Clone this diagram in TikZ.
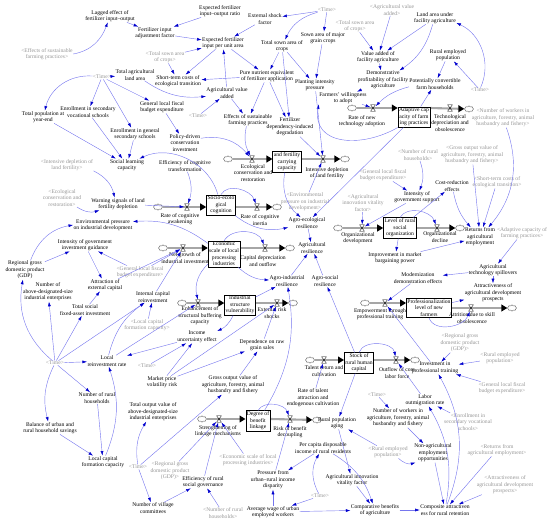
\documentclass[tikz,border=0pt]{standalone}
\usepackage{fontspec}
\setmainfont{Liberation Serif}
\usetikzlibrary{arrows.meta}
\usetikzlibrary{shapes.symbols}
\pgfdeclarelayer{back}
\pgfsetlayers{back,main}
\definecolor{linkblue}{RGB}{118,118,238}
\definecolor{tipblue}{RGB}{0,0,205}
\definecolor{shadowgray}{RGB}{150,150,150}

\tikzset{
  var/.style={align=center, inner sep=0.5pt, font=\fontsize{8}{9.4}\selectfont},
  ghost/.style={var, text=shadowgray},
  stock/.style={var, draw=black, line width=0.8pt, fill=white, inner sep=1.5pt},
  link/.style={draw=linkblue, line width=0.6pt, -{Latex[length=2.3mm,width=1.5mm,color=tipblue]}},
  pipe/.style={draw=black!35, line width=3pt, -{Triangle[length=3mm,width=3.4mm,black]}},
  source/.style={cloud, cloud puffs=8, cloud ignores aspect, draw=black!70, fill=white, line width=0.5pt, minimum width=0.45cm, minimum height=0.32cm, inner sep=0pt},
  valve/.style={minimum width=0.26cm, minimum height=0.34cm, inner sep=0pt,
    path picture={\draw[black, line width=0.5pt]
      ([shift={(0.3pt,-0.3pt)}]path picture bounding box.north west) --
      ([shift={(-0.3pt,-0.3pt)}]path picture bounding box.north east) --
      ([shift={(0.3pt,0.3pt)}]path picture bounding box.south west) --
      ([shift={(-0.3pt,0.3pt)}]path picture bounding box.south east) -- cycle;}}
}

\begin{document}
\begin{tikzpicture}[x=0.05cm,y=-0.05cm]
\useasboundingbox (0,0) rectangle (550,524);
%Fertilizer and land
\node[var] (lag) at (110,16) {Lagged effect of\\fertilizer input–output};
\node[var] (fiaf) at (155,33) {Fertilizer input\\adjustment factor};
\node[var] (efior) at (220,11) {Expected fertilizer\\input–output ratio};
\node[var] (esf) at (265,19) {External shock\\factor};
\node[ghost] (time1) at (327,10) {<Time>};
\node[var] (sams) at (323,38) {Sown area of major\\grain crops};
\node[var] (tsac) at (282,46) {Total sown area of\\crops};
\node[ghost] (tsacg1) at (355,26) {<Total sown area\\of crops>};
\node[ghost] (avag) at (392,10) {<Agricultural value\\added>};
\node[var] (lafa) at (435,18) {Land area under\\facility agriculture};
\node[var] (vafa) at (378,57) {Value added of\\facility agriculture};
\node[var] (rep) at (448,55) {Rural employed\\population};
\node[var] (dpfa) at (383,80) {Demonstrative\\profitability of facility\\agriculture};
\node[var] (pcfh) at (435,84) {Potentially convertible\\farm households};
\node[ghost] (time2) at (480,90) {<Time>};
\node[var] (efiu) at (223,43) {Expected fertilizer\\input per unit area};
\node[ghost] (esfpg) at (47,54) {<Effects of sustainable\\farming practices>};
\node[ghost] (tsacg2) at (165,57) {<Total sown area\\of crops>};
\node[ghost] (time3) at (102,77) {<Time>};
\node[var] (tal) at (135,75) {Total agricultural\\land area};
\node[var] (stc) at (178,81) {Short-term costs of\\ecological transition};
\node[var] (pne) at (267,76) {Pure nutrient equivalent\\of fertilizer application};
\node[var] (ava) at (227,93) {Agricultural value\\added};
\node[var] (pip) at (315,85) {Planting intensity\\pressure};
\node[var] (fwa) at (343,98) {Farmers' willingness\\to adopt};
\node[ghost] (time4) at (198,116) {<Time>};
\node[var] (esfp) at (248,120) {Effects of sustainable\\farming practices};
\node[var] (fdd) at (290,127) {Fertilizer\\dependency-induced\\degradation};
\node[var] (esvs) at (88,112) {Enrollment in secondary\\vocational schools};
\node[var] (tpy) at (43,117) {Total population at\\year-end};
\node[var] (glfb) at (162,107) {General local fiscal\\budget expenditure};
\node[var] (egss) at (135,134) {Enrollment in general\\secondary schools};
\node[var] (pdci) at (185,143) {Policy-driven\\conservation\\investment};
%Adaptive capacity
\node[stock] (acfp) at (414,117) {Adaptive cap\\acity of farm\\ing practices};
\node[source] (c1) at (352,108) {};
\node[valve] (rnta) at (373,108) {};
\node[var] (lrnta) at (362,121) {Rate of new\\technology adoption};
\node[valve] (tdo) at (450,108) {};
\node[source] (c2) at (469,109) {};
\node[var] (ltdo) at (450,123) {Technological\\depreciation and\\obsolescence};
\node[ghost] (nwg) at (503,118) {<Number of workers in\\agriculture, forestry, animal\\husbandry and fishery>};
%Carrying capacity and cognition
\node[stock] (sfcc) at (287,162) {and fertility\\carrying\\capacity};
\node[source] (c3) at (228,159) {};
\node[valve] (ecr) at (252,159) {};
\node[var] (lecr) at (253,173) {Ecological\\conservation and\\restoration};
\node[valve] (idlf) at (323,159) {};
\node[source] (c4) at (345,159) {};
\node[var] (lidlf) at (327,173) {Intensive depletion\\of land fertility};
\node[var] (slc) at (127,165) {Social learning\\capacity};
\node[ghost] (idlfg) at (67,165) {<Intensive depletion of\\land fertility>};
\node[var] (ect) at (185,166) {Efficiency of cognitive\\transformation};
\node[ghost] (ecrg) at (62,198) {<Ecological\\conservation and\\restoration>};
\node[var] (wsfd) at (118,204) {Warning signals of land\\fertility depletion};
\node[stock] (sec) at (221,205) {Socio-ecolo\\gical\\cognition};
\node[source] (c5) at (158,207) {};
\node[valve] (rca) at (187,207) {};
\node[var] (lrca) at (180,219) {Rate of cognitive\\awakening};
\node[valve] (rci) at (257,207) {};
\node[source] (c6) at (277,207) {};
\node[var] (lrci) at (260,220) {Rate of cognitive\\inertia};
\node[ghost] (epidg) at (305,202) {<Environmental\\pressure on industrial\\development>};
\node[var] (aer) at (307,223) {Agro-ecological\\resilience};
%Rural organization
\node[ghost] (aivfg) at (363,203) {<Agricultural\\innovation vitality\\factor>};
\node[ghost] (nrhg) at (418,155) {<Number of rural\\households>};
\node[ghost] (glfbg1) at (383,175) {<General local fiscal\\budget expenditure>};
\node[ghost] (gtog) at (472,155) {<Gross output value of\\agriculture, forestry, animal\\husbandry and fishery>};
\node[var] (cre) at (452,186) {Cost-reduction\\effects};
\node[ghost] (stcg) at (497,182) {<Short-term costs of\\ecological transition>};
\node[var] (igs) at (417,197) {Intensity of\\government support};
\node[stock] (lrso) at (400,228) {Level of rural\\social\\organization};
\node[source] (c7) at (338,228) {};
\node[valve] (od) at (362,228) {};
\node[var] (lod) at (358,238) {Organizational\\development};
\node[valve] (odec) at (437,228) {};
\node[source] (c8) at (460,228) {};
\node[var] (lodec) at (440,237) {Organizational\\decline};
\node[var] (rae) at (480,237) {Returns from\\agricultural\\employment};
\node[ghost] (acfpg) at (522,233) {<Adaptive capacity of\\farming practices>};
%Industry
\node[var] (epid) at (103,225) {Environmental pressure\\on industrial development};
\node[var] (igig) at (85,245) {Intensity of government\\investment guidance};
\node[stock] (eslp) at (224,254) {Economic\\scale of local\\processing\\industries};
\node[source] (c9) at (163,248) {};
\node[valve] (ngii) at (183,248) {};
\node[var] (lngii) at (185,258) {Net growth of\\industrial investment};
\node[valve] (cdo) at (265,248) {};
\node[source] (c10) at (290,248) {};
\node[var] (lcdo) at (263,261) {Capital depreciation\\and outflow};
\node[var] (ar) at (312,248) {Agricultural\\resilience};
\node[var] (imbp) at (395,258) {Improvement in market\\bargaining power};
\node[var] (gdp) at (25,270) {Regional gross\\domestic product\\(GDP)};
\node[ghost] (glfbg2) at (140,272) {<General local fiscal\\budget expenditure>};
\node[var] (ats) at (493,270) {Agricultural\\technology spillovers};
\node[var] (mde) at (418,278) {Modernization\\demonstration effects};
\node[var] (air) at (287,281) {Agro-industrial\\resilience};
\node[var] (asr) at (325,281) {Agro-social\\resilience};
\node[var] (ec) at (105,285) {Attraction of\\external capital};
\node[var] (nadie) at (48,292) {Number of\\above-designated-size\\industrial enterprises};
\node[var] (adp) at (493,293) {Attractiveness of\\agricultural development\\prospects};
\node[var] (icr) at (153,297) {Internal capital\\reinvestment};
\node[stock] (isv) at (240,305) {Industrial\\structure\\vulnerability};
\node[source] (c11) at (182,303) {};
\node[valve] (esbc) at (198,303) {};
\node[var] (lesbc) at (200,316) {Enhancement of\\structural buffering\\capacity};
\node[valve] (ers) at (277,303) {};
\node[source] (c12) at (293,303) {};
\node[var] (lers) at (272,313) {External risk\\shocks};
%Professional farmers
\node[stock] (plnf) at (429,308) {Professionalization\\level of new\\farmers};
\node[source] (c13) at (365,303) {};
\node[valve] (eptt) at (385,303) {};
\node[var] (leptt) at (380,314) {Empowerment through\\professional training};
\node[valve] (asko) at (471,308) {};
\node[source] (c14) at (512,308) {};
\node[var] (lasko) at (472,318) {Attrition due to skill\\obsolescence};
\node[var] (tsfi) at (85,310) {Total social\\fixed-asset investment};
\node[ghost] (lcfcg) at (147,325) {<Local capital\\formation capacity>};
\node[var] (iue) at (197,337) {Income\\uncertainty effect};
\node[var] (drgs) at (262,345) {Dependence on raw\\grain sales};
\node[ghost] (gdpg1) at (460,343) {<Regional gross\\domestic product\\(GDP)>};
\node[ghost] (repg1) at (500,358) {<Rural employed\\population>};
%Human capital
\node[stock] (srhc) at (359,363) {Stock of\\rural human\\capital};
\node[source] (c15) at (310,360) {};
\node[valve] (trc) at (324,360) {};
\node[var] (ltrc) at (324,371) {Talent return and\\cultivation};
\node[valve] (oclf) at (396,360) {};
\node[source] (c16) at (415,360) {};
\node[var] (loclf) at (397,373) {Outflow of core\\labor force};
\node[ghost] (time5) at (55,363) {<Time>};
\node[var] (lrr) at (107,361) {Local\\reinvestment rate};
\node[ghost] (time6) at (147,366) {<Time>};
\node[var] (ipt) at (435,368) {Investment in\\professional training};
\node[var] (mpvr) at (162,382) {Market price\\volatility risk};
\node[var] (gtov) at (233,385) {Gross output value of\\agriculture, forestry, animal\\husbandry and fishery};
\node[ghost] (glfbg3) at (502,388) {<General local fiscal\\budget expenditure>};
\node[var] (nrh) at (97,398) {Number of rural\\households};
\node[var] (rta) at (313,398) {Rate of talent\\attraction and\\endogenous cultivation};
\node[ghost] (time7) at (377,395) {<Time>};
\node[var] (lor) at (425,400) {Labor\\outmigration rate};
\node[var] (tov) at (153,412) {Total output value of\\above-designated-size\\industrial enterprises};
\node[var] (nwafa) at (398,418) {Number of workers in\\agriculture, forestry, animal\\husbandry and fishery};
\node[ghost] (esvsg) at (468,422) {<Enrollment in\\secondary vocational\\schools>};
%Benefit linkage
\node[stock] (dbl) at (258,421) {Degree of\\benefit\\linkage};
\node[source] (c17) at (202,419) {};
\node[valve] (slm) at (219,419) {};
\node[var] (lslm) at (218,431) {Strengthening of\\linkage mechanisms};
\node[valve] (rbd) at (290,419) {};
\node[source] (c18) at (317,420) {};
\node[var] (lrbd) at (290,432) {Risk of benefit\\decoupling};
\node[var] (rpa) at (337,423) {Rural population\\aging};
\node[var] (bs) at (50,428) {Balance of urban and\\rural household savings};
\node[var] (pcdi) at (323,448) {Per capita disposable\\income of rural residents};
\node[ghost] (repg2) at (388,452) {<Rural employed\\population>};
\node[var] (naeo) at (433,453) {Non-agricultural\\employment\\opportunities};
\node[ghost] (raeg) at (497,450) {<Returns from\\agricultural employment>};
\node[ghost] (eslpg) at (248,460) {<Economic scale of local\\processing industries>};
\node[var] (lcfc) at (103,462) {Local capital\\formation capacity};
\node[ghost] (time8) at (138,467) {<Time>};
\node[ghost] (gdpg2) at (170,471) {<Regional gross\\domestic product\\(GDP)>};
\node[var] (ersg) at (203,482) {Efficiency of rural\\social governance};
\node[var] (puri) at (273,480) {Pressure from\\urban–rural income\\disparity};
\node[var] (aivf) at (352,480) {Agricultural innovation\\vitality factor};
\node[ghost] (adpg) at (505,485) {<Attractiveness of\\agricultural development\\prospects>};
\node[ghost] (time9) at (320,496) {<Time>};
\node[var] (nvc) at (153,508) {Number of village\\committees};
\node[var] (awu) at (273,512) {Average wage of urban\\employed workers};
\node[ghost] (nrhg2) at (223,513) {<Number of rural\\households>};
\node[var] (cba) at (375,510) {Comparative benefits\\of agriculture};
\node[var] (carr) at (445,510) {Composite attractiven\\ess for rural retention};
%Pipes
\begin{pgfonlayer}{back}
\draw[pipe] (c1) -- (c1 -| acfp.west);
\draw[pipe] (acfp.east |- tdo) -- (c2);
\draw[pipe] (c3) -- (c3 -| sfcc.west);
\draw[pipe] (sfcc.east |- idlf) -- (c4);
\draw[pipe] (c5) -- (c5 -| sec.west);
\draw[pipe] (sec.east |- rci) -- (c6);
\draw[pipe] (c7) -- (c7 -| lrso.west);
\draw[pipe] (lrso.east |- odec) -- (c8);
\draw[pipe] (c9) -- (c9 -| eslp.west);
\draw[pipe] (eslp.east |- cdo) -- (c10);
\draw[pipe] (c11) -- (c11 -| isv.west);
\draw[pipe] (isv.east |- ers) -- (c12);
\draw[pipe] (c13) -- (c13 -| plnf.west);
\draw[pipe] (plnf.east |- asko) -- (c14);
\draw[pipe] (c15) -- (c15 -| srhc.west);
\draw[pipe] (srhc.east |- oclf) -- (c16);
\draw[pipe] (c17) -- (c17 -| dbl.west);
\draw[pipe] (dbl.east |- rbd) -- (c18);
\end{pgfonlayer}
%Fertilizer links
\draw[link] (esfpg.east) to [out=10,in=-110] (lag);
\draw[link] (lag) to (fiaf);
\draw[link] (efior) to (fiaf);
\draw[link] (fiaf) to (efiu);
\draw[link] (esf) to (efiu);
\draw[link] (time1) to (esf);
\draw[link] (time1) to (sams);
\draw[link] (time1) to [bend right=25] (tsac);
\draw[link] (tsacg1) to (vafa);
\draw[link] (avag) to (vafa);
\draw[link] (lafa) to (vafa);
\draw[link] (lafa) to [bend left=20] (dpfa);
\draw[link] (vafa) to (dpfa);
\draw[link] (dpfa) to (fwa);
\draw[link] (rep) to (pcfh);
\draw[link] (time2) to (rep);
\draw[link] (time2) to [bend right=45] (lafa);
\draw[link] (pcfh) to [bend right=15] (rnta);
\draw[link] (acfp) to (pcfh);
\draw[link] (fwa) to (rnta);
\draw[link] (acfp.south west) to [out=-150,in=-100,looseness=1.3] (fwa.south west);
\draw[link] (efiu) to (stc);
\draw[link] (efiu) to (pne);
\draw[link] (ava) to (efiu);
\draw[link] (pne) to (stc);
\draw[link] (tsac) to (pne);
\draw[link] (tsac) to (fdd);
\draw[link] (tsac) to (pip);
\draw[link] (sams) to (pip);
\draw[link] (pne) to (esfp);
\draw[link] (pne) to (fdd);
\draw[link] (ava) to (esfp);
\draw[link] (time4) to (ava);
\draw[link] (tal) to [bend right=20] (ava);
\draw[link] (pip) to (idlf);
\draw[link] (fdd) to (idlf);
\draw[link] (tsacg2) to (stc);
\draw[link] (tsacg2) to (efiu);
\draw[link] (time3) to (tal);
\draw[link] (time3) to (esvs);
\draw[link] (time3) to [bend right=40] (tpy);
\draw[link] (time3) to (glfb);
\draw[link] (time3) to (egss);
\draw[link] (glfb) to (pdci);
\draw[link] (tpy) to (slc);
\draw[link] (esvs) to (slc);
\draw[link] (egss) to (slc);
\draw[link] (pdci) to [bend left=30] (ecr);
\draw[link] (esfp) to [bend right=20] (ecr);
%Cognition links
\draw[link] (idlfg) to [bend left=25] (wsfd);
\draw[link] (ecrg) to [bend right=25] (wsfd);
\draw[link] (wsfd) to (rca);
\draw[link] (ect) to [bend left=20] (rca);
\draw[link] (sec) to [bend right=50] (slc);
\draw[link] (sec.north) to [out=60,in=110] (rci);
\draw[link] (sec) to [bend right=25] (aer);
\draw[link] (sfcc) to [bend right=30] (aer);
\draw[link] (epidg) to (idlf);
\draw[link] (aer) to (ar);
\draw[link] (acfp) to (aer);
%Organization links
\draw[link] (aivfg) to (od);
\draw[link] (nrhg) to [bend left=20] (igs);
\draw[link] (glfbg1) to (igs);
\draw[link] (igs) to (od);
\draw[link] (lrso) to (imbp);
\draw[link] (lrso) to (cre);
\draw[link] (lrso.north) to [out=60,in=110] (odec);
\draw[link] (gtog) to (rae);
\draw[link] (stcg) to (rae);
\draw[link] (cre) to [bend right=15] (rae);
\draw[link] (nwg) to [bend left=30] (rae);
\draw[link] (imbp) to (rae);
\draw[link] (acfpg) to (ats);
\draw[link] (ats) to (mde);
\draw[link] (ats) to (adp);
\draw[link] (mde) to (eptt);
\draw[link] (plnf) to (adp);
\draw[link] (plnf.south) to [out=-70,in=-110] (asko);
\draw[link] (gdpg1) to (ipt);
\draw[link] (repg1) to (ipt);
\draw[link] (glfbg3) to (ipt);
\draw[link] (ipt) to (eptt);
%Industry links
\draw[link] (eslp) to [bend right=20] (epid);
\draw[link] (gdp) to [bend left=30] (epid);
\draw[link] (gdp) to (igig);
\draw[link] (glfbg2) to (igig);
\draw[link] (igig) to (ec);
\draw[link] (time5) to [bend left=30] (gdp);
\draw[link] (time5) to (nadie);
\draw[link] (time5) to (tsfi);
\draw[link] (time5) to (icr);
\draw[link] (time5) to (lrr);
\draw[link] (time5) to [bend right=20] (bs);
\draw[link] (time5) to (nrh);
\draw[link] (tsfi) to (ec);
\draw[link] (ec) to (ngii);
\draw[link] (glfbg2) to (ngii);
\draw[link] (icr) to (ngii);
\draw[link] (lcfcg) to (icr);
\draw[link] (lrr) to [bend left=20] (icr);
\draw[link] (lrr) to (esbc);
\draw[link] (iue) to (lrr);
\draw[link] (time6) to (iue);
\draw[link] (mpvr) to (iue);
\draw[link] (lcfc) to [bend right=20] (lrr);
\draw[link] (eslp) to [bend right=30] (esbc);
\draw[link] (eslp.north) to [out=60,in=110] (cdo);
\draw[link] (isv) to (air);
\draw[link] (eslp) to [bend right=20] (air);
\draw[link] (air) to (ar);
\draw[link] (asr) to (ar);
\draw[link] (srhc) to (asr);
\draw[link] (isv) to [bend left=20] (iue);
\draw[link] (mpvr) to (ers);
\draw[link] (mpvr) to (drgs);
\draw[link] (drgs) to (ers);
\draw[link] (gtov) to (drgs);
%Human capital links
\draw[link] (srhc.north) to [out=70,in=100] (oclf);
\draw[link] (srhc) to (rpa);
\draw[link] (lor) to (oclf);
\draw[link] (rta) to (trc);
\draw[link] (dbl) to [bend right=20] (air);
\draw[link] (dbl.north) to [out=60,in=110] (rbd);
\draw[link] (puri) to (rbd);
\draw[link] (pcdi) to (puri);
\draw[link] (time9) to [bend left=30] (pcdi);
\draw[link] (time9) to (awu);
\draw[link] (awu) to (puri);
\draw[link] (awu) to (cba);
\draw[link] (pcdi) to [bend left=20] (cba);
\draw[link] (rpa) to (aivf);
\draw[link] (repg2) to (rpa);
\draw[link] (aivf) to (cba);
\draw[link] (eslpg) to (slm);
\draw[link] (ersg) to (slm);
\draw[link] (gdpg2) to (slm);
\draw[link] (nrhg2) to (ersg);
\draw[link] (nvc) to (ersg);
\draw[link] (nrh) to (lcfc);
\draw[link] (bs) to (lcfc);
\draw[link] (time8) to [bend left=20] (tov);
\draw[link] (time8) to (gtov);
\draw[link] (time8) to (nvc);
\draw[link] (time7) to (nwafa);
\draw[link] (nwafa) to (naeo);
\draw[link] (repg2) to [bend right=30] (naeo);
\draw[link] (naeo) to (carr);
\draw[link] (carr) to [bend right=20] (lor);
\draw[link] (carr) to [bend right=25] (ipt);
\draw[link] (esvsg) to (lor);
\draw[link] (raeg) to (carr);
\draw[link] (adpg) to (carr);
\draw[link] (cba) to (carr);
\end{tikzpicture}
\end{document}
